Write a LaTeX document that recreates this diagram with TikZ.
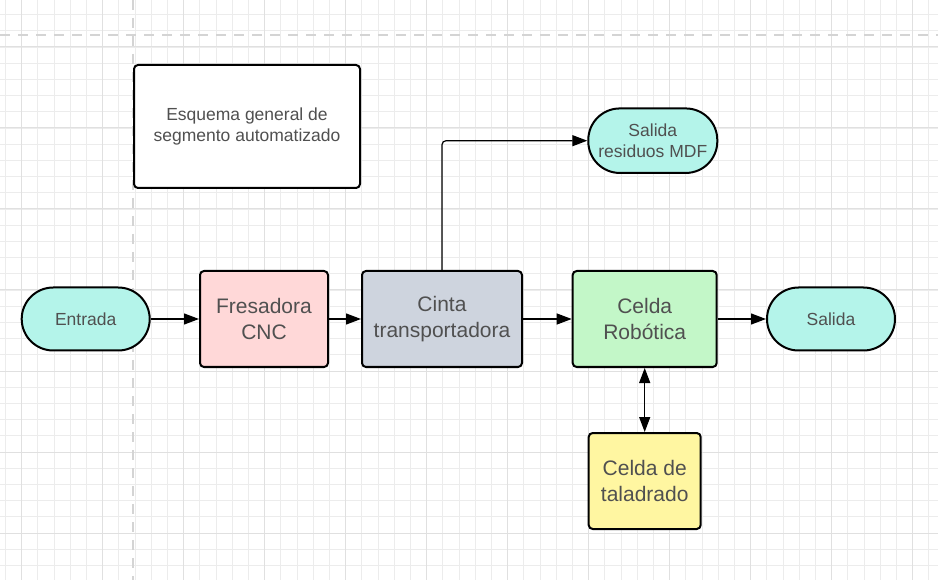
\documentclass[tikz,border=0pt]{standalone}
\usepackage{fontspec}
\setmainfont{Liberation Sans}
\usetikzlibrary{arrows.meta,positioning}
\definecolor{txtgray}{RGB}{80,80,80}
\definecolor{minorg}{RGB}{236,236,236}
\definecolor{majorg}{RGB}{224,224,224}
\definecolor{guidec}{RGB}{212,212,212}
\definecolor{cyanf}{RGB}{180,244,234}
\definecolor{pinkf}{RGB}{255,216,216}
\definecolor{grayf}{RGB}{206,212,222}
\definecolor{greenf}{RGB}{195,247,200}
\definecolor{yellowf}{RGB}{255,246,161}
\begin{document}
\begin{tikzpicture}[x=1pt, y=-1pt,
  minorgrid/.style={minorg, line width=0.9pt},
  majorgrid/.style={majorg, line width=1pt},
  guide/.style={guidec, line width=2.8pt, dash pattern=on 10pt off 8pt},
  box/.style={draw=black, line width=2pt, rounded corners=4pt, text=txtgray,
    align=center, font=\fontsize{21}{25.5}\selectfont, minimum height=96pt},
  term/.style={draw=black, line width=2pt, rounded corners=31.5pt, text=txtgray,
    align=center, font=\fontsize{17.5}{21.5}\selectfont, minimum width=128pt, minimum height=63pt},
  flow/.style={line width=1.2pt, -{Triangle[length=15pt, width=11pt]}},
  both/.style={line width=1.2pt, {Triangle[length=15pt, width=11pt]}-{Triangle[length=15pt, width=11pt]}}
]
\useasboundingbox[fill=white] (0,0) rectangle (938,580);
% grid
\foreach \gx in {5.5,21.7,...,938} \draw[minorgrid] (\gx,0) -- (\gx,580);
\foreach \gy in {14.6,30.8,...,580} \draw[minorgrid] (0,\gy) -- (938,\gy);
\foreach \gx in {21.7,102.7,...,938} \draw[majorgrid] (\gx,0) -- (\gx,580);
\foreach \gy in {47,128,...,580} \draw[majorgrid] (0,\gy) -- (938,\gy);
\draw[guide] (133,0) -- (133,580);
\draw[guide] (0,35) -- (938,35);

% title box
\node[box, fill=white, font=\fontsize{17.5}{20.5}\selectfont, minimum width=226pt, minimum height=123pt]
  (nota) at (247,126.5) {Esquema general de\\segmento automatizado};

% process chain
\node[term, fill=cyanf] (entrada) at (85.7,319) {Entrada};
\node[box, fill=pinkf, minimum width=128pt] (fresadora) at (264,319) {Fresadora\\CNC};
\node[box, fill=grayf, minimum width=160pt] (cinta) at (442,319) {Cinta\\transportadora};
\node[box, fill=greenf, minimum width=144pt] (robot) at (644.7,319) {Celda\\Robótica};
\node[term, fill=cyanf] (salida) at (831,319) {Salida};
\node[box, fill=yellowf, minimum width=112pt] (taladro) at (644.7,481) {Celda de\\taladrado};
\node[term, fill=cyanf, minimum width=129pt, minimum height=64.5pt] (residuos) at (652.8,140.7) {Salida\\residuos MDF};

\draw[flow] (entrada) -- (fresadora);
\draw[flow] (fresadora) -- (cinta);
\draw[flow] (cinta) -- (robot);
\draw[flow] (robot) -- (salida);
\draw[flow, rounded corners=4pt] (cinta.north) |- (residuos.west);
\draw[both] (robot) -- (taladro);
\end{tikzpicture}
\end{document}
